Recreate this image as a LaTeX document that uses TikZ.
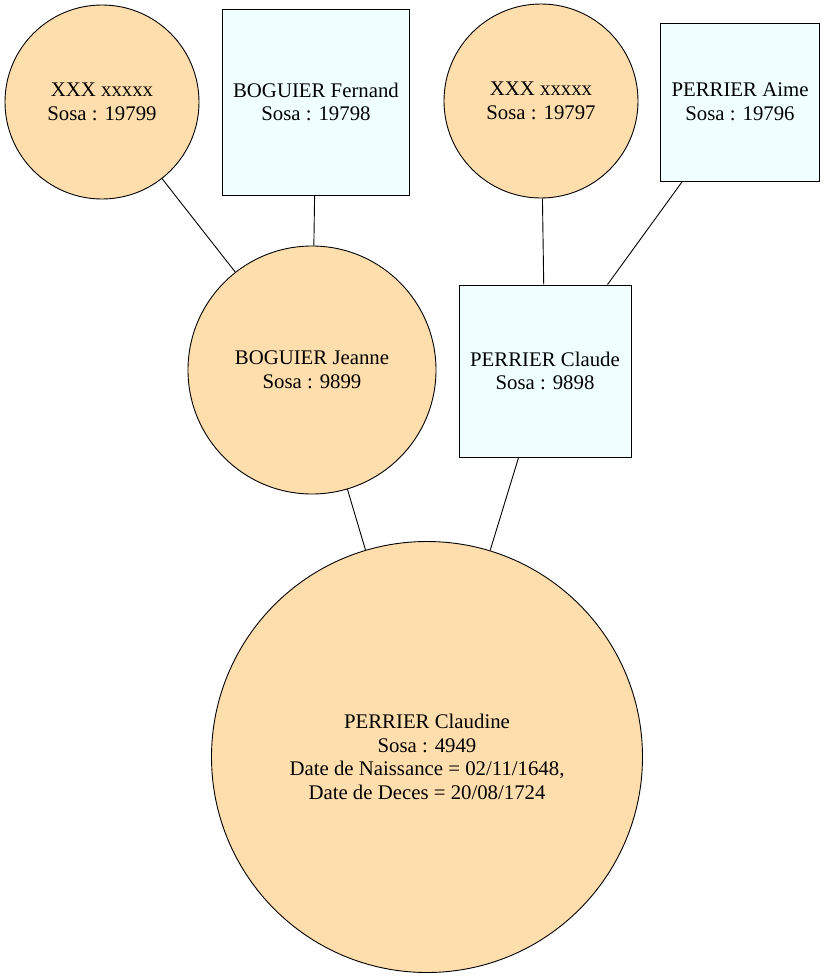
\documentclass[tikz,border=0pt]{standalone}
\usepackage{fontspec}
\setmainfont{Liberation Serif}
\definecolor{femme}{HTML}{FFDEAD}
\definecolor{homme}{HTML}{F0FFFF}

\begin{document}
\begin{tikzpicture}[x=1pt,y=-1pt,
    person/.style={draw, line width=0.9pt, align=center, inner sep=0pt,
        font=\fontsize{20.8}{23.5}\selectfont},
    female/.style={person, circle, fill=femme},
    male/.style={person, rectangle, fill=homme},
    link/.style={line width=0.9pt}]
\useasboundingbox (0,0) rectangle (826,980);

\node[female, minimum size=194] (s19799) at (102,102) {XXX xxxxx\\Sosa : 19799};
\node[male, minimum width=187, minimum height=186] (s19798) at (316,102) {BOGUIER Fernand\\Sosa : 19798};
\node[female, minimum size=194] (s19797) at (541,101) {XXX xxxxx\\Sosa : 19797};
\node[male, minimum width=159, minimum height=158] (s19796) at (740,102) {PERRIER Aime\\Sosa : 19796};
\node[female, minimum size=248] (s9899) at (312,370) {BOGUIER Jeanne\\Sosa : 9899};
\node[male, minimum width=172, minimum height=172] (s9898) at (545,371) {PERRIER Claude\\Sosa : 9898};
\node[female, minimum size=431] (s4949) at (427,757) {PERRIER Claudine\\Sosa : 4949\\Date de Naissance = 02/11/1648,\\Date de Deces = 20/08/1724};

\draw[link] (s19799) -- (s9899);
\draw[link] (s19798) -- (s9899);
\draw[link] (s19797) -- (s9898);
\draw[link] (s19796) -- (s9898);
\draw[link] (s9899) -- (s4949);
\draw[link] (s9898) -- (s4949);
\end{tikzpicture}
\end{document}
